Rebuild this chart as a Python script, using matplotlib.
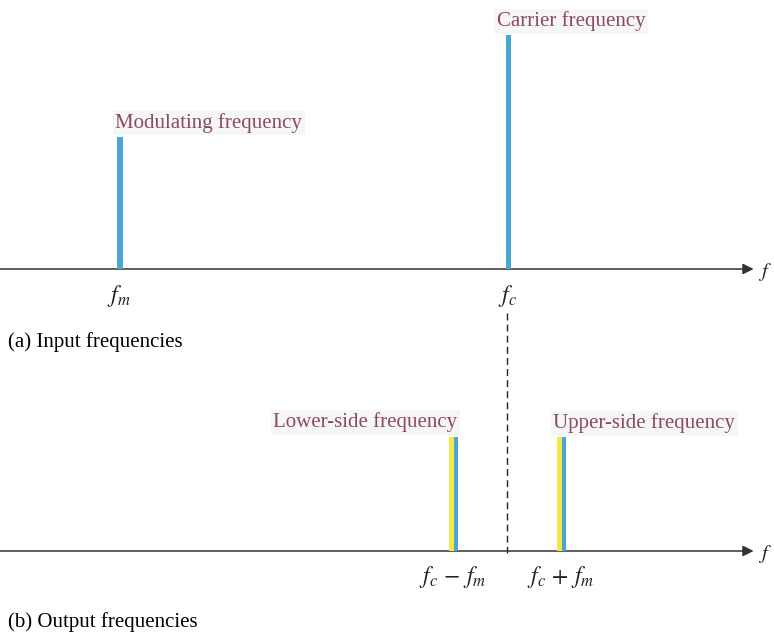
import matplotlib.pyplot as plt

plt.rcParams['font.family'] = ['Liberation Serif', 'DejaVu Serif']
plt.rcParams['mathtext.fontset'] = 'stix'

# Data (x in arbitrary frequency units, y = relative amplitude)
input_names = ['Modulating frequency', 'Carrier frequency']
input_freqs = [1.0, 4.24]
input_amps = [1.32, 2.34]
input_ticks = ['$f_m$', '$f_c$']

output_names = ['Lower-side frequency', 'Upper-side frequency']
output_freqs = [3.78, 4.68]
output_amps = [1.14, 1.14]
output_ticks = ['$f_c\\,-\\,f_m$', '$f_c\\,+\\,f_m$']

blue = '#4ba6d6'
yellow = '#f2e84a'
label_col = '#8c4a62'
axis_col = '#333333'
W, H = 774, 638

fig = plt.figure(figsize=(W / 100, H / 100), dpi=100)
ax1 = fig.add_axes([0, 1 - 320 / H, 1, 320 / H])
ax2 = fig.add_axes([0, 0, 1, 320 / H])
ax1.set_xlim(0, W / 120)
ax1.set_ylim(-0.51, 2.69)
ax2.set_xlim(0, W / 120)
ax2.set_ylim(-0.87, 2.33)
for ax in (ax1, ax2):
    ax.axis('off')
    # frequency axis with arrow
    ax.annotate('', xy=(6.28, 0), xytext=(0, 0),
                arrowprops=dict(arrowstyle='-|>', color=axis_col, lw=1.1,
                                mutation_scale=16, shrinkA=0, shrinkB=0))
    ax.text(6.32, -0.03, '$f$', fontsize=15, va='center', ha='left', color='#222222')

bbox = dict(boxstyle='square,pad=0.12', fc='#f6f6f6', ec='none')

# (a) input frequencies
for f, a, tick in zip(input_freqs, input_amps, input_ticks):
    ax1.bar(f, a, width=0.042, color=blue, zorder=3)
    ax1.text(f - 0.01, -0.27, tick, fontsize=17, ha='center', va='center', color='#222222')
ax1.text(input_freqs[0] - 0.04, input_amps[0] + 0.09, input_names[0], fontsize=15,
         color=label_col, ha='left', va='baseline', bbox=bbox)
ax1.text(input_freqs[1] - 0.1, input_amps[1] + 0.09, input_names[1], fontsize=15,
         color=label_col, ha='left', va='baseline', bbox=bbox)

# (b) output frequencies: yellow + blue side by side
for f, a, tick in zip(output_freqs, output_amps, output_ticks):
    ax2.bar(f, a, width=0.04, align='edge', color=blue, zorder=3)
    ax2.bar(f, a, width=-0.035, align='edge', color=yellow, zorder=3)
    ax2.text(f - 0.01, -0.26, tick, fontsize=17, ha='center', va='center', color='#222222')
ax2.text(output_freqs[0] + 0.03, output_amps[0] + 0.1, output_names[0], fontsize=15,
         color=label_col, ha='right', va='baseline', bbox=bbox)
ax2.text(output_freqs[1] - 0.07, output_amps[1] + 0.09, output_names[1], fontsize=15,
         color=label_col, ha='left', va='baseline', bbox=bbox)

# dashed line from below f_c down to output axis
ax2.plot([4.225, 4.225], [2.38, -0.02], ls=(0, (5, 3)),
         color='#222222', lw=1.0, clip_on=False)

fig.text(8 / W, 1 - 342 / H, '(a) Input frequencies', fontsize=15, va='center', ha='left')
fig.text(8 / W, 1 - 622 / H, '(b) Output frequencies', fontsize=15, va='center', ha='left')

fig.savefig('out.png', dpi=100)
